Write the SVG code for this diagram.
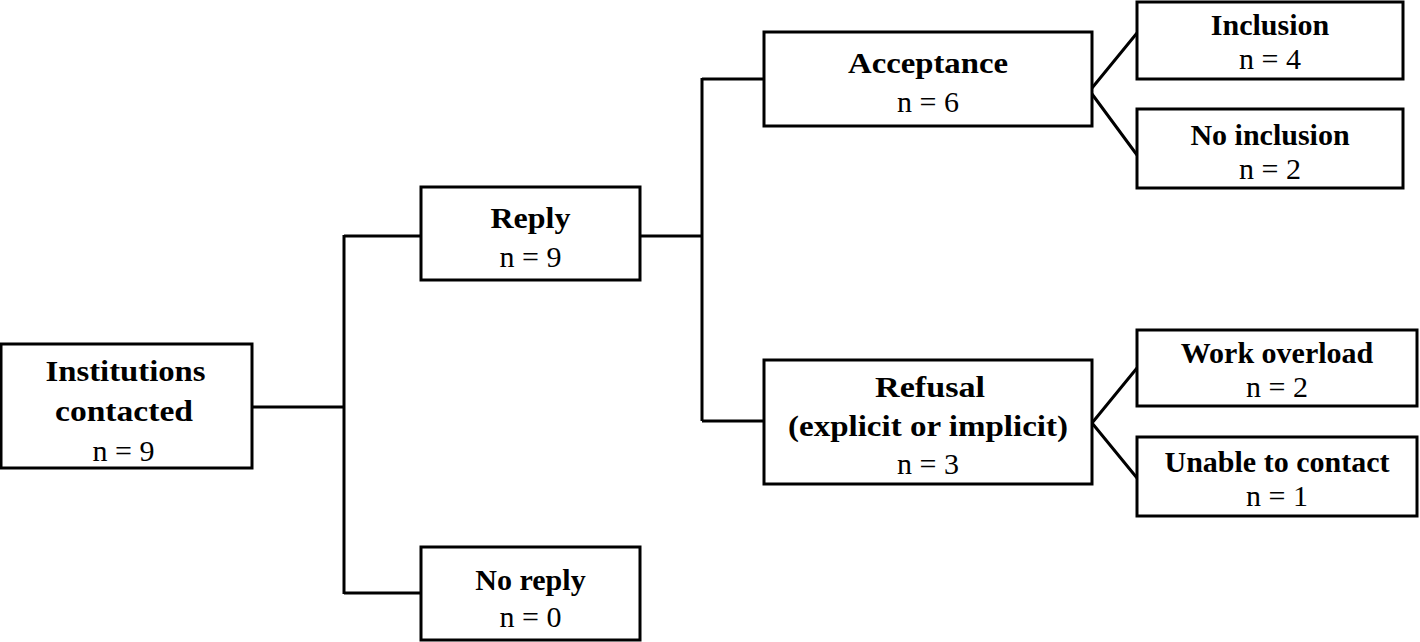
<svg xmlns="http://www.w3.org/2000/svg" width="1420" height="642" viewBox="0 0 1420 642">
<style>
.box{fill:#fff;stroke:#000;stroke-width:3}
.c{fill:none;stroke:#000;stroke-width:3}
text{font-family:"Liberation Serif","Times New Roman",serif;font-size:30px;fill:#000;text-anchor:middle}
.b{font-weight:bold}
</style>
<rect width="1420" height="642" fill="#fff"/>
<g id="connectors">
<path class="c" d="M252,407H344M344,235V594M344,236H421M344,593H421M640,236H702M702,78V421M702,79H764M702,421H764"/>
<path class="c" d="M1092,88L1137,33M1092,94L1137,155M1092,423L1137,368M1092,423L1137,478"/>
</g>
<g id="institutions">
<rect class="box" x="1" y="344" width="251" height="124"/>
<text class="b" x="125.5" y="381" textLength="160" lengthAdjust="spacingAndGlyphs">Institutions</text>
<text class="b" x="124" y="421" textLength="138" lengthAdjust="spacingAndGlyphs">contacted</text>
<text x="123.5" y="461">n = 9</text>
</g>
<g id="reply">
<rect class="box" x="421" y="187" width="219" height="93"/>
<text class="b" x="530.5" y="228" textLength="80" lengthAdjust="spacingAndGlyphs">Reply</text>
<text x="530.5" y="267">n = 9</text>
</g>
<g id="noreply">
<rect class="box" x="421" y="547" width="219" height="93"/>
<text class="b" x="530.5" y="590">No reply</text>
<text x="530.5" y="627">n = 0</text>
</g>
<g id="acceptance">
<rect class="box" x="764" y="32" width="328" height="94"/>
<text class="b" x="928" y="73" textLength="160" lengthAdjust="spacingAndGlyphs">Acceptance</text>
<text x="928" y="112">n = 6</text>
</g>
<g id="refusal">
<rect class="box" x="764" y="360" width="328" height="124"/>
<text class="b" x="930" y="397" textLength="110" lengthAdjust="spacingAndGlyphs">Refusal</text>
<text class="b" x="928" y="436" textLength="280" lengthAdjust="spacingAndGlyphs">(explicit or implicit)</text>
<text x="928" y="474">n = 3</text>
</g>
<g id="inclusion">
<rect class="box" x="1137" y="2" width="266" height="77"/>
<text class="b" x="1270" y="35">Inclusion</text>
<text x="1270" y="69">n = 4</text>
</g>
<g id="noinclusion">
<rect class="box" x="1137" y="109" width="266" height="79"/>
<text class="b" x="1270" y="145">No inclusion</text>
<text x="1270" y="179">n = 2</text>
</g>
<g id="workoverload">
<rect class="box" x="1137" y="330" width="280" height="76"/>
<text class="b" x="1277" y="363">Work overload</text>
<text x="1277" y="397">n = 2</text>
</g>
<g id="unable">
<rect class="box" x="1137" y="437" width="280" height="79"/>
<text class="b" x="1277" y="472">Unable to contact</text>
<text x="1277" y="506">n = 1</text>
</g>
</svg>
